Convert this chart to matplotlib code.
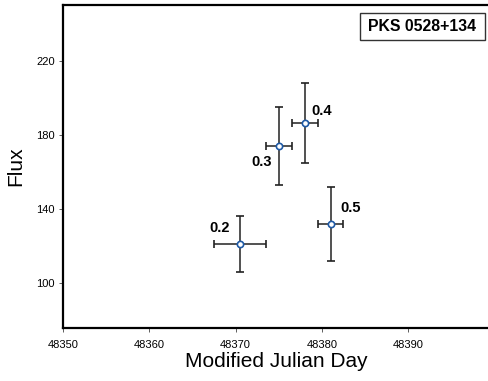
import matplotlib
matplotlib.use("Agg")
import matplotlib.pyplot as plt
from matplotlib.patches import Rectangle

plt.rcParams['font.family'] = ['Liberation Sans', 'DejaVu Sans']

mjd = [48370.5, 48375.0, 48378.0, 48381.0]
mjd_err = [3.0, 1.5, 1.5, 1.5]
flux = [121.0, 174.0, 186.5, 132.0]
flux_err = [15.0, 21.2, 21.7, 20.0]
labels = ["0.2", "0.3", "0.4", "0.5"]
label_offsets = [(-20, 16), (-17, -16), (17, 12), (20, 16)]

xticks = [48350, 48360, 48370, 48380, 48390]
yticks = [100, 140, 180, 220]

fig = plt.figure(figsize=(4.89, 3.81), dpi=100)
ax = fig.add_axes([63/489, 1 - 328/381, 1 - 63/489, (328 - 5)/381])

ax.errorbar(mjd, flux, xerr=mjd_err, yerr=flux_err, fmt='o', ms=4.5,
            mfc='white', mec='#1f5aa6', mew=1.2, ecolor='#222222',
            elinewidth=1.1, capsize=3, capthick=1.1, zorder=3)

for x, y, lab, (dx, dy) in zip(mjd, flux, labels, label_offsets):
    ax.annotate(lab, (x, y), xytext=(dx, dy), textcoords='offset pixels',
                ha='center', va='center', fontsize=10.5, fontweight='bold')

ax.set_xlim(48350, 48350 + 426/8.63)
ax.set_ylim(75.7, 250.3)
ax.set_xticks(xticks)
ax.set_yticks(yticks)
ax.tick_params(labelsize=8, length=3, width=0.6, color='#444444', pad=6)
ax.tick_params(axis='y', pad=3)

for s in ['left', 'bottom', 'top']:
    ax.spines[s].set_linewidth(1.6)
ax.spines['right'].set_visible(False)

ax.set_xlabel("Modified Julian Day", fontsize=15, labelpad=1)
ax.set_ylabel("Flux", fontsize=15, labelpad=8)

x0 = (360 - 63) / 426
x1 = (485 - 63) / 426
y0 = 1 - (40 - 5) / 323
y1 = 1 - (13 - 5) / 323
ax.add_patch(Rectangle((x0, y0), x1 - x0, y1 - y0, transform=ax.transAxes,
                       fc='white', ec='#333333', lw=1.0, zorder=4))
ax.text((x0 + x1) / 2, (y0 + y1) / 2, "PKS 0528+134", transform=ax.transAxes,
        ha='center', va='center', fontsize=11.4, fontweight='bold', zorder=5)

fig.savefig("out.png", dpi=100)
